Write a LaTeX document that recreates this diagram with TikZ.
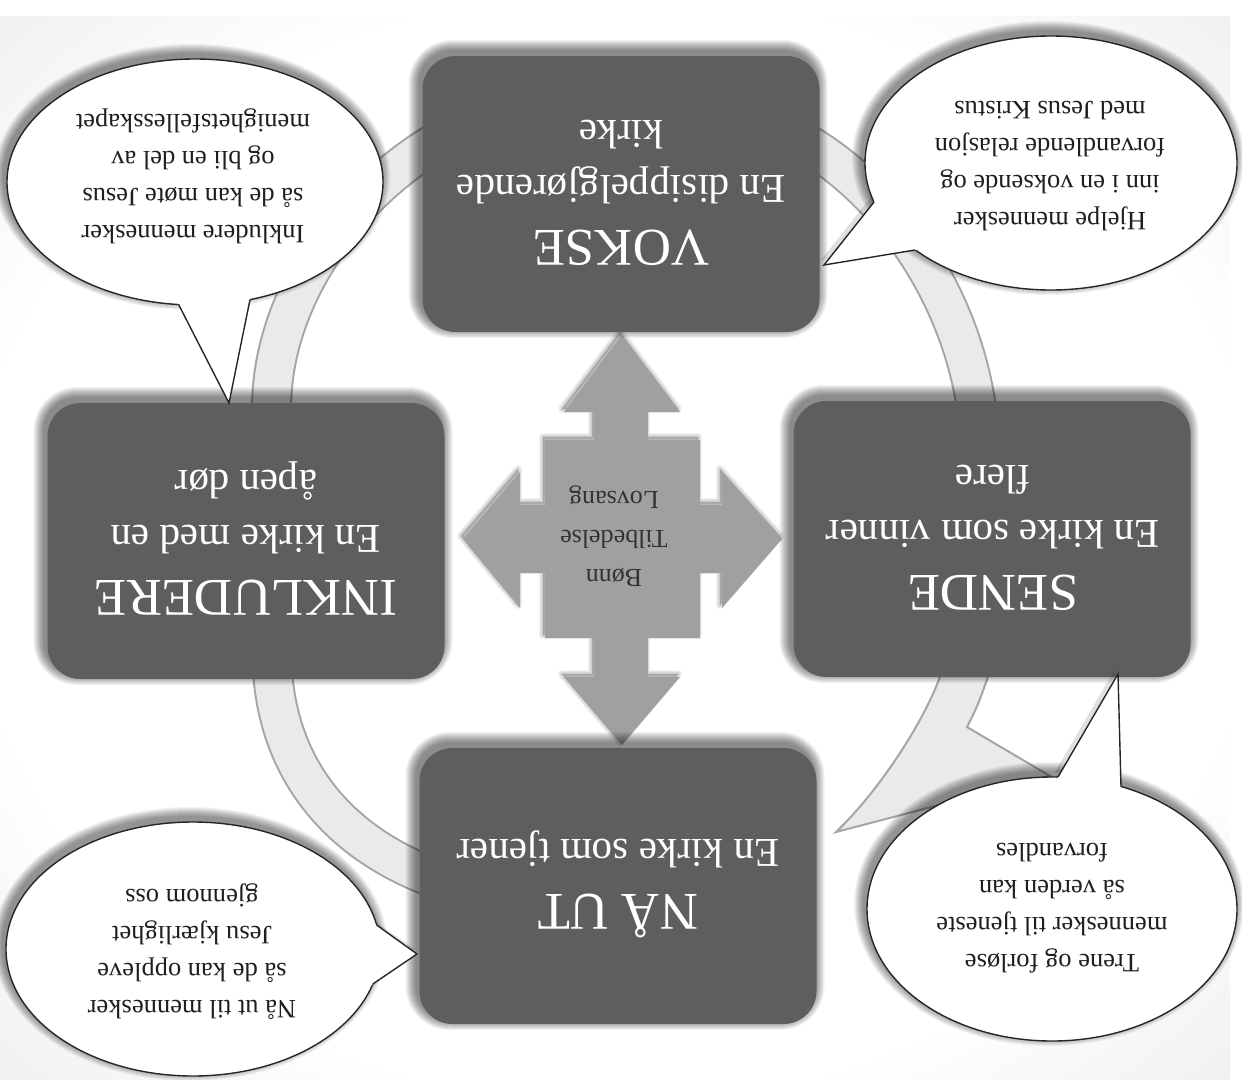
\documentclass[tikz,border=0pt]{standalone}
\usepackage{fontspec}
\setmainfont{Liberation Serif}
\usetikzlibrary{calc}
\definecolor{boxgray}{RGB}{94,94,94}
\definecolor{crossgray}{RGB}{160,160,160}
\definecolor{ringlight}{RGB}{234,234,234}
\definecolor{ringline}{RGB}{165,165,165}
\pgfdeclareradialshading{paper}{\pgfpoint{0bp}{0bp}}{color(0bp)=(white); color(26bp)=(white); color(46bp)=(black!12); color(72bp)=(black!24)}
\newcommand\stagetitle[1]{{\fontsize{53}{55}\selectfont #1}}
% soft shadow for a box centred at (#1,#2)
\newcommand\boxshadow[2]{%
  \foreach \i in {1,...,11} {%
    \fill[black, opacity=0.05, rounded corners={(33+\i)*1pt}]
      ({#1-198.5-\i-3},{#2-138-\i-5}) rectangle ({#1+198.5+\i-3},{#2+138+\i-5});}}
% soft shadow for an ellipse centred at (#1,#2) with radii #3,#4
\newcommand\ellshadow[4]{%
  \foreach \i in {1,...,10} {%
    \fill[black, opacity=0.05] ({#1-3},{#2-5}) circle[x radius={(#3+\i)*1pt}, y radius={(#4+\i)*1pt}];}}
\begin{document}
\begin{tikzpicture}[x=1pt,y=-1pt,
  stagebox/.style={draw=none, fill=boxgray, rounded corners=33pt, minimum width=397pt, minimum height=276pt, inner sep=0pt},
  stagetext/.style={text=white, align=center, rotate=180, inner sep=0pt, font=\fontsize{41}{55}\selectfont},
  callline/.style={draw=black!85, line width=1.4pt, line join=miter},
  calltext/.style={text=black!88, align=center, rotate=180, inner sep=0pt, font=\fontsize{26.5}{37}\selectfont},
  ringband/.style={preaction={draw=ringline, line width=41pt}, draw=ringlight, line width=37pt},
]
\useasboundingbox (0,0) rectangle (1242,1079);
\fill[white] (0,0) rectangle (1242,1079);
\shade[shading=paper] (0,16) rectangle (1230,1079);

% cycle arcs
\draw[ringband] (272,420) .. controls (266,320) and (330,205) .. (440,140);
\draw[ringband] (800,140) .. controls (890,190) and (965,300) .. (978,420);
\draw[ringband] (440,880) .. controls (340,845) and (275,770) .. (272,660);
\filldraw[fill=ringlight, draw=ringline, line width=2pt] (941,650) -- (941,674) .. controls (925,720) and (880,790) .. (836,832) -- (1050,776) -- (967,727) .. controls (978,705) .. (989,674) -- (989,650) -- cycle;

% centre cross arrow
\foreach \i in {1,...,4} {
\fill[black, opacity=0.05, line join=round, draw=black, draw opacity=0.05, line width={\i*2pt}]
  ([shift={(-2,-3)}]622,335) -- ([shift={(-2,-3)}]680,412) -- ([shift={(-2,-3)}]648,412) -- ([shift={(-2,-3)}]648,440) -- ([shift={(-2,-3)}]700,440) -- ([shift={(-2,-3)}]700,505) -- ([shift={(-2,-3)}]722,505) -- ([shift={(-2,-3)}]722,472) -- ([shift={(-2,-3)}]782,539)
  -- ([shift={(-2,-3)}]722,608) -- ([shift={(-2,-3)}]722,573) -- ([shift={(-2,-3)}]700,573) -- ([shift={(-2,-3)}]700,638) -- ([shift={(-2,-3)}]648,638) -- ([shift={(-2,-3)}]648,677) -- ([shift={(-2,-3)}]680,677) -- ([shift={(-2,-3)}]622,745)
  -- ([shift={(-2,-3)}]564,677) -- ([shift={(-2,-3)}]594,677) -- ([shift={(-2,-3)}]594,638) -- ([shift={(-2,-3)}]545,638) -- ([shift={(-2,-3)}]545,573) -- ([shift={(-2,-3)}]520,573) -- ([shift={(-2,-3)}]520,608) -- ([shift={(-2,-3)}]463,539)
  -- ([shift={(-2,-3)}]520,472) -- ([shift={(-2,-3)}]520,505) -- ([shift={(-2,-3)}]545,505) -- ([shift={(-2,-3)}]545,440) -- ([shift={(-2,-3)}]594,440) -- ([shift={(-2,-3)}]594,412) -- ([shift={(-2,-3)}]564,412) -- cycle;}
\fill[crossgray]
  (622,335) -- (680,412) -- (648,412) -- (648,440) -- (700,440) -- (700,505) -- (722,505) -- (722,472) -- (782,539)
  -- (722,608) -- (722,573) -- (700,573) -- (700,638) -- (648,638) -- (648,677) -- (680,677) -- (622,745)
  -- (564,677) -- (594,677) -- (594,638) -- (545,638) -- (545,573) -- (520,573) -- (520,608) -- (463,539)
  -- (520,472) -- (520,505) -- (545,505) -- (545,440) -- (594,440) -- (594,412) -- (564,412) -- cycle;
\node[font=\fontsize{26}{39}\selectfont, text=black!80, align=center, rotate=180, inner sep=0pt] (core) at (614,536) {Bønn\\Tilbedelse\\Lovsang};

% stage boxes
\boxshadow{621}{194}
\node[stagebox] (vokse) at (621,194) {};
\node[stagetext] (voksetxt) at (621,193) {\stagetitle{VOKSE}\\En disippelgjørende\\kirke};
\boxshadow{992}{539}
\node[stagebox] (sende) at (992,539) {};
\node[stagetext] (sendetxt) at (993,538) {\stagetitle{SENDE}\\En kirke som vinner\\flere};
\boxshadow{618}{886}
\node[stagebox] (naut) at (618,886) {};
\node[stagetext] (nauttxt) at (618,884) {\stagetitle{NÅ UT}\\En kirke som tjener};
\boxshadow{246}{541}
\node[stagebox] (inkl) at (246,541) {};
\node[stagetext] (inkltxt) at (246,538) {\stagetitle{INKLUDERE}\\En kirke med en\\åpen dør};

% callout coordinates
\coordinate (tlc) at (195,182); \coordinate (tlb1) at (178.6,304.5); \coordinate (tlb2) at (250,299.6); \coordinate (tlt) at (229,403);
\coordinate (trc) at (1051,163); \coordinate (trb1) at (874,202); \coordinate (trb2) at (915,250); \coordinate (trt) at (824,265);
\coordinate (blc) at (193,949); \coordinate (blb1) at (376.6,925); \coordinate (blb2) at (372.8,984); \coordinate (blt) at (417,954);
\coordinate (brc) at (1052,909); \coordinate (brb1) at (1058,777); \coordinate (brb2) at (1121,787); \coordinate (brt) at (1118,674);

% top-left callout
\ellshadow{195}{182}{188}{123}
\fill[black, opacity=0.12] ([shift={(-3,-5)}]tlb1) -- ([shift={(-3,-5)}]tlt) -- ([shift={(-3,-5)}]tlb2) -- cycle;
\filldraw[fill=white, callline] (tlc) circle[x radius=188pt, y radius=123pt];
\fill[white] ($(tlt)!1.1!(tlb1)$) -- (tlt) -- ($(tlt)!1.1!(tlb2)$) -- cycle;
\draw[callline] (tlb1) -- (tlt) -- (tlb2);
\node[calltext] (tltxt) at (193,176) {Inkludere mennesker\\så de kan møte Jesus\\og bli en del av\\menighetsfellesskapet};

% top-right callout
\ellshadow{1051}{163}{186}{127}
\fill[black, opacity=0.12] ([shift={(-3,-5)}]trb1) -- ([shift={(-3,-5)}]trt) -- ([shift={(-3,-5)}]trb2) -- cycle;
\filldraw[fill=white, callline] (trc) circle[x radius=186pt, y radius=127pt];
\fill[white] ($(trt)!1.1!(trb1)$) -- (trt) -- ($(trt)!1.1!(trb2)$) -- cycle;
\draw[callline] (trb1) -- (trt) -- (trb2);
\node[calltext] (trtxt) at (1050,166) {Hjelpe mennesker\\inn i en voksende og\\forvandlende relasjon\\med Jesus Kristus};

% bottom-left callout
\ellshadow{193}{949}{187}{127}
\fill[black, opacity=0.12] ([shift={(-3,-5)}]blb1) -- ([shift={(-3,-5)}]blt) -- ([shift={(-3,-5)}]blb2) -- cycle;
\filldraw[fill=white, callline] (blc) circle[x radius=187pt, y radius=127pt];
\fill[white] ($(blt)!1.1!(blb1)$) -- (blt) -- ($(blt)!1.1!(blb2)$) -- cycle;
\draw[callline] (blb1) -- (blt) -- (blb2);
\node[calltext] (bltxt) at (192,952) {Nå ut til mennesker\\så de kan oppleve\\Jesu kjærlighet\\gjennom oss};

% bottom-right callout
\ellshadow{1052}{909}{185}{132}
\fill[black, opacity=0.12] ([shift={(-3,-5)}]brb1) -- ([shift={(-3,-5)}]brt) -- ([shift={(-3,-5)}]brb2) -- cycle;
\filldraw[fill=white, callline] (brc) circle[x radius=185pt, y radius=132pt];
\fill[white] ($(brt)!1.1!(brb1)$) -- (brt) -- ($(brt)!1.1!(brb2)$) -- cycle;
\draw[callline] (brb1) -- (brt) -- (brb2);
\node[calltext] (brtxt) at (1052,908) {Trene og forløse\\mennesker til tjeneste\\så verden kan\\forvandles};
\end{tikzpicture}
\end{document}
